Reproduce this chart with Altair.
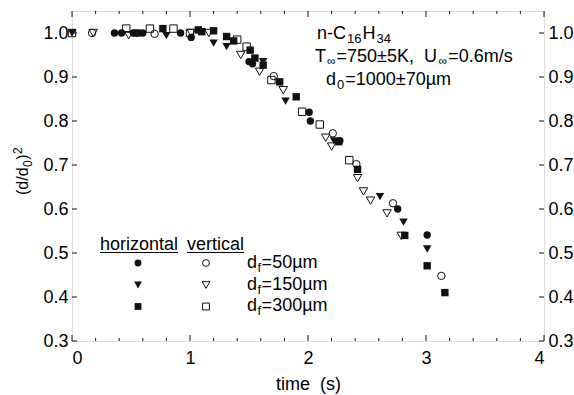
import altair as alt
import pandas as pd

FONT = "Liberation Sans"

# ---------------- data ----------------
# horizontal (filled markers)
h50_t = [0.36, 0.42, 0.52, 0.60, 0.92, 1.01, 1.50, 1.53, 2.01, 2.02, 2.27, 2.76, 3.01]
h50_y = [1.0, 1.0, 1.0, 1.0, 1.0, 0.99, 0.935, 0.93, 0.82, 0.80, 0.755, 0.60, 0.541]

h150_t = [0.0, 0.55, 0.80, 1.20, 1.31, 1.62, 1.81, 2.22, 2.61, 2.81, 3.01]
h150_y = [1.0, 0.998, 0.994, 0.977, 0.969, 0.935, 0.845, 0.755, 0.628, 0.57, 0.509]

h300_t = [0.55, 0.77, 1.07, 1.10, 1.20, 1.31, 1.37, 1.51, 1.55, 1.62, 1.76, 1.90, 2.26, 2.42, 2.82, 3.01, 3.16]
h300_y = [1.0, 1.01, 1.007, 1.003, 1.005, 0.992, 0.982, 0.961, 0.943, 0.927, 0.889, 0.855, 0.753, 0.69, 0.54, 0.471, 0.41]

# vertical (open markers)
v50_t = [0.17, 0.70, 1.71, 2.21, 2.41, 2.72, 3.13]
v50_y = [1.0, 0.998, 0.902, 0.772, 0.702, 0.613, 0.448]

v150_t = [0.18, 0.48, 1.01, 1.16, 1.43, 1.59, 1.79, 2.15, 2.20, 2.42, 2.47, 2.53, 2.67, 2.79]
v150_y = [1.0, 0.995, 1.0, 1.0, 0.95, 0.912, 0.87, 0.762, 0.742, 0.67, 0.64, 0.619, 0.59, 0.539]

v300_t = [0.0, 0.46, 0.66, 0.86, 1.00, 1.40, 1.48, 1.69, 1.95, 2.10, 2.35]
v300_y = [1.0, 1.01, 1.01, 1.01, 1.0, 0.985, 0.969, 0.893, 0.821, 0.792, 0.711]

x_major = [0, 1, 2, 3, 4]
x_minor = [0.2, 0.4, 0.6, 0.8, 1.2, 1.4, 1.6, 1.8, 2.2, 2.4, 2.6, 2.8, 3.2, 3.4, 3.6, 3.8]
y_ticks = [0.3, 0.4, 0.5, 0.6, 0.7, 0.8, 0.9, 1.0]

MSIZES = {"circle": 55, "triangle-down": 72, "square": 55}

series = [
    ("horizontal", "circle", h50_t, h50_y),
    ("horizontal", "triangle-down", h150_t, h150_y),
    ("horizontal", "square", h300_t, h300_y),
    ("vertical", "circle", v50_t, v50_y),
    ("vertical", "triangle-down", v150_t, v150_y),
    ("vertical", "square", v300_t, v300_y),
]
rows = []
for orient, marker, ts, ys in series:
    for t, y in zip(ts, ys):
        rows.append({"t": t, "d2": y, "orient": orient, "marker": marker,
                     "ms": MSIZES[marker]})
df = pd.DataFrame(rows)

# ---------------- layout ----------------
W_PLOT, H_PLOT = 472, 330
OX, OY = 72, 11  # plot origin on the canvas
INK = "#111111"

xscale = alt.Scale(domain=[0, 4], nice=False, zero=False)
yscale = alt.Scale(domain=[0.3, 1.05], nice=False, zero=False)

# Arial / Liberation Sans advance widths (em)
WID = {'.': .278, '=': .584, '±': .584, 'K': .667, ',': .278, ' ': .278, '\u00a0': .278,
       'U': .722, 'T': .611, 'm': .833, '/': .278, 's': .5, 'n': .556, '-': .333, 'C': .722,
       'H': .722, 'd': .556, 'f': .278, 'µ': .576, '∞': .713, '(': .333, ')': .333,
       'h': .556, 'o': .556, 'r': .333, 'i': .222, 'z': .5, 't': .278, 'a': .556, 'l': .222,
       'v': .5, 'e': .556, 'c': .5}


def rich(segs, x0, y0, size=18, sub=13, rotated=False, sub_shift=4, sup_shift=-7, gap=1.0):
    out = []
    pos = 0.0
    for text, kind in segs:
        fs = size if kind == "n" else sub
        shift = 0 if kind == "n" else (sub_shift if kind == "sub" else sup_shift)
        w = sum(WID.get(c, 0.556) for c in text) * fs
        if rotated:
            out.append({"x": x0 + shift - OX, "y": y0 - pos - OY, "text": text, "fs": fs})
        else:
            out.append({"x": x0 + pos - OX, "y": y0 + shift - OY, "text": text, "fs": fs})
        pos += w + gap
    return out


ann = []
ann += rich([("n-C", "n"), ("16", "sub"), ("H", "n"), ("34", "sub")], 317, 39)
ann += rich([("T", "n"), ("∞", "sub"), ("=750±5K,\u00a0\u00a0U", "n"), ("∞", "sub"),
             ("=0.6m/s", "n")], 315, 62, sub=12, sub_shift=3)
ann += rich([("d", "n"), ("0", "sub"), ("=1000±70µm", "n")], 326, 84.5)
ann += rich([("horizontal", "n")], 100, 250)
ann += rich([("vertical", "n")], 187, 250)
for lab, yb in [("=50µm", 268), ("=150µm", 289.5), ("=300µm", 310.5)]:
    ann += rich([("d", "n"), ("f", "sub"), (lab, "n")], 247, yb, gap=0.5)
ann_df = pd.DataFrame(ann)

ytitle_df = pd.DataFrame(rich([("(d/d", "n"), ("0", "sub"), (")", "n"), ("2", "sup")],
                              28, 195, size=16, sub=12, rotated=True,
                              sub_shift=4, sup_shift=-6, gap=0.5))

under_df = pd.DataFrame([
    {"x": 100 - OX, "x2": 178 - OX, "y": 252.5 - OY},
    {"x": 187 - OX, "x2": 244 - OX, "y": 252.5 - OY},
])

leg_rows = []
for mk, yy in [("circle", 263), ("triangle-down", 285), ("square", 306.5)]:
    leg_rows.append({"x": 138 - OX, "y": yy - OY, "marker": mk, "orient": "horizontal",
                     "ms": MSIZES[mk] * 0.85})
    leg_rows.append({"x": 206 - OX, "y": yy - OY, "marker": mk, "orient": "vertical",
                     "ms": MSIZES[mk] * 0.85})
leg_df = pd.DataFrame(leg_rows)

# ---------------- layers ----------------
x_axis = alt.Axis(values=x_major, format="d", ticks=False, domain=False, grid=False,
                  labelFontSize=18, labelPadding=8, labelColor="black",
                  title="time\u00a0\u00a0(s)", titleFontSize=18, titleFontWeight="normal",
                  titlePadding=8, titleColor="black")
left_y_axis = alt.Axis(values=y_ticks, format=".1f", ticks=False, domain=False, grid=False,
                       labelFontSize=18, labelPadding=4, labelColor="black", title=None)
right_y_axis = alt.Axis(orient="right", values=y_ticks, format=".1f", ticks=False,
                        domain=False, grid=False, labelFontSize=18, labelPadding=4,
                        labelColor="black", title=None)

X = lambda f: alt.X(f, scale=xscale, axis=x_axis)

open_pts = alt.Chart(df[df.orient == "vertical"]).mark_point(
    filled=False, color=INK, strokeWidth=1, opacity=1
).encode(
    x=X("t:Q"),
    y=alt.Y("d2:Q", scale=yscale, axis=left_y_axis),
    shape=alt.Shape("marker:N", scale=None),
    size=alt.Size("ms:Q", scale=None),
)

filled_pts = alt.Chart(df[df.orient == "horizontal"]).mark_point(
    filled=True, color=INK, opacity=1
).encode(
    x=X("t:Q"),
    y=alt.Y("d2:Q", scale=yscale, axis=None),
    shape=alt.Shape("marker:N", scale=None),
    size=alt.Size("ms:Q", scale=None),
)

xmaj_df = pd.DataFrame({"v": x_major})
xmin_df = pd.DataFrame({"v": x_minor})
yt_df = pd.DataFrame({"v": y_ticks})


def xticks(d, y0, y1):
    return alt.Chart(d).mark_rule(color=INK, strokeWidth=1).encode(
        x=X("v:Q"), y=alt.value(y0), y2=alt.value(y1))


tick_layers = [
    xticks(xmaj_df, H_PLOT, H_PLOT - 6),
    xticks(xmin_df, H_PLOT, H_PLOT - 3),
    xticks(xmaj_df, 0, 6),
    xticks(xmin_df, 0, 3),
    alt.Chart(yt_df).mark_rule(color=INK, strokeWidth=1).encode(
        y=alt.Y("v:Q", scale=yscale, axis=None), x=alt.value(0), x2=alt.value(5)),
    alt.Chart(yt_df).mark_rule(color=INK, strokeWidth=1).encode(
        y=alt.Y("v:Q", scale=yscale, axis=right_y_axis), x=alt.value(W_PLOT), x2=alt.value(W_PLOT - 5)),
]

ann_layer = alt.Chart(ann_df).mark_text(
    align="left", baseline="alphabetic", font=FONT, color="black"
).encode(
    x=alt.X("x:Q", scale=None), y=alt.Y("y:Q", scale=None), text="text:N",
    size=alt.Size("fs:Q", scale=None),
)

ytitle_layer = alt.Chart(ytitle_df).mark_text(
    align="left", baseline="alphabetic", font=FONT, color="black", angle=270
).encode(
    x=alt.X("x:Q", scale=None), y=alt.Y("y:Q", scale=None), text="text:N",
    size=alt.Size("fs:Q", scale=None),
)

under_layer = alt.Chart(under_df).mark_rule(color="black", strokeWidth=1.2).encode(
    x=alt.X("x:Q", scale=None), x2="x2:Q", y=alt.Y("y:Q", scale=None))

leg_open = alt.Chart(leg_df[leg_df.orient == "vertical"]).mark_point(
    filled=False, color=INK, strokeWidth=1, opacity=1
).encode(x=alt.X("x:Q", scale=None), y=alt.Y("y:Q", scale=None),
         shape=alt.Shape("marker:N", scale=None), size=alt.Size("ms:Q", scale=None))
leg_filled = alt.Chart(leg_df[leg_df.orient == "horizontal"]).mark_point(
    filled=True, color=INK, opacity=1
).encode(x=alt.X("x:Q", scale=None), y=alt.Y("y:Q", scale=None),
         shape=alt.Shape("marker:N", scale=None), size=alt.Size("ms:Q", scale=None))

chart = alt.layer(
    open_pts, filled_pts, *tick_layers, ann_layer, ytitle_layer, under_layer, leg_open, leg_filled
).resolve_scale(y="independent").properties(
    width=W_PLOT, height=H_PLOT,
    autosize=alt.AutoSizeParams(type="none"),
    padding={"left": OX, "top": OY, "right": 574 - OX - W_PLOT, "bottom": 395 - OY - H_PLOT},
    background="white",
).configure_view(
    stroke=INK, strokeWidth=1
).configure(font=FONT)

chart.save("out.html", embed_options={"renderer": "svg", "actions": False})
